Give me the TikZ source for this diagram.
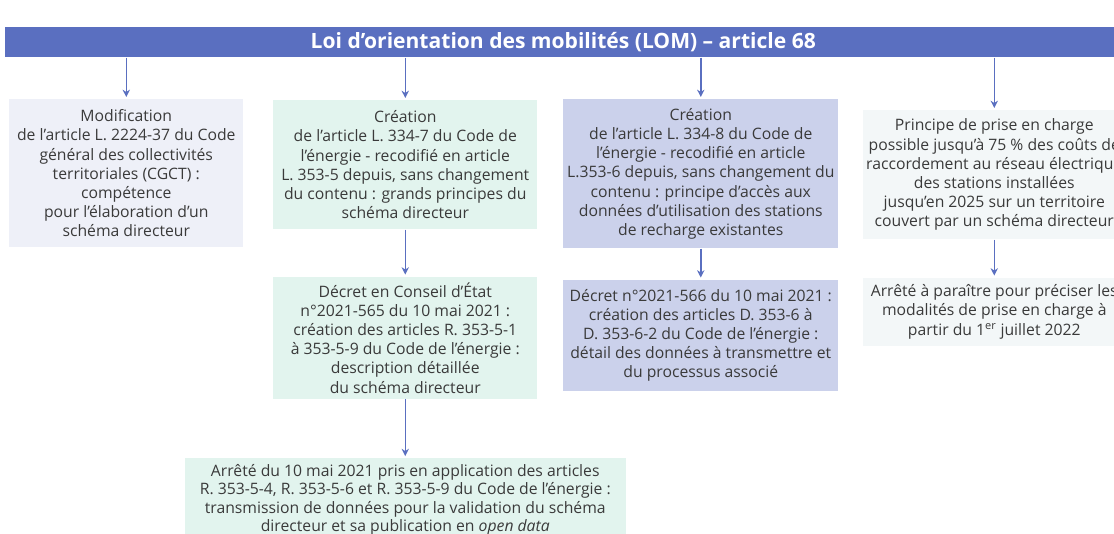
\documentclass[tikz,border=0pt]{standalone}
\usepackage{fontspec}
\setmainfont{Open Sans}
\usepackage{xcolor}
\usepackage{tikz}
\usetikzlibrary{arrows.meta, positioning}

\definecolor{lombleu}{HTML}{5A6FC0}
\definecolor{lavande}{HTML}{EEF0F8}
\definecolor{menthe}{HTML}{E2F4EE}
\definecolor{bleuclair}{HTML}{CBD1EB}
\definecolor{grisclair}{HTML}{F3F7F8}
\definecolor{texte}{HTML}{3A3A3A}

\begin{document}
\begin{tikzpicture}[
    x=0.75pt, y=-0.75pt,
    box/.style={rectangle, inner xsep=2pt, inner ysep=4pt, align=center, text=texte,
                font=\fontsize{11.8}{14.4}\selectfont},
    arr/.style={-{Stealth[length=5.5pt, width=5.5pt]}, line width=1.1pt, lombleu,
                shorten >=1.5pt}
]
\useasboundingbox (0,0) rectangle (1114,533);

% bandeau du titre
\node[rectangle, fill=lombleu, anchor=north west, minimum width=837pt, minimum height=22.5pt,
      text=white, font=\fontsize{15.8}{17}\selectfont\bfseries] (lom) at (5,27)
      {Loi d’orientation des mobilités (LOM) – article 68};

% premiere rangee
\node[box, fill=lavande, anchor=north west, minimum width=175.5pt, minimum height=111pt] (cgct) at (9,99)
  {Modification\\de l’article L. 2224-37 du Code\\général des collectivités\\territoriales (CGCT) :\\compétence\\pour l’élaboration d’un\\schéma directeur};
\node[box, fill=menthe, anchor=north west, minimum width=198pt, minimum height=96.75pt] (l3347) at (273,100)
  {Création\\de l’article L. 334-7 du Code de\\l’énergie - recodifié en article\\L. 353-5 depuis, sans changement\\du contenu : grands principes du\\schéma directeur};
\node[box, fill=bleuclair, anchor=north west, minimum width=206.25pt, minimum height=111.75pt] (l3348) at (563,99)
  {Création\\de l’article L. 334-8 du Code de\\l’énergie - recodifié en article\\L.353-6 depuis, sans changement du\\contenu : principe d’accès aux\\données d’utilisation des stations\\de recharge existantes};
\node[box, fill=grisclair, anchor=north west, minimum width=196.5pt, minimum height=96.75pt] (prise) at (863,110)
  {Principe de prise en charge\\possible jusqu’à 75 \% des coûts de\\raccordement au réseau électrique\\des stations installées\\jusqu’en 2025 sur un territoire\\couvert par un schéma directeur};

% decrets et arretes
\node[box, fill=menthe, below=35.25pt of l3347, minimum width=198pt, minimum height=91.5pt] (d565)
  {Décret en Conseil d’État\\n°2021-565 du 10 mai 2021 :\\création des articles R. 353-5-1\\à 353-5-9 du Code de l’énergie :\\description détaillée\\du schéma directeur};
\node[box, fill=bleuclair, below=23.25pt of l3348, minimum width=206.25pt, minimum height=83.25pt] (d566)
  {Décret n°2021-566 du 10 mai 2021 :\\création des articles D. 353-6 à\\D. 353-6-2 du Code de l’énergie :\\détail des données à transmettre et\\du processus associé};
\node[box, fill=grisclair, below=28.5pt of prise, minimum width=196.5pt, minimum height=51pt] (arrete22)
  {Arrêté à paraître pour préciser les\\modalités de prise en charge à\\partir du 1\textsuperscript{er} juillet 2022};
\node[box, fill=menthe, below=44.25pt of d565, minimum width=330.75pt, minimum height=62pt,
      font=\fontsize{11.8}{13.8}\selectfont] (arrete21)
  {Arrêté du 10 mai 2021 pris en application des articles\\R. 353-5-4, R. 353-5-6 et R. 353-5-9 du Code de l’énergie :\\transmission de données pour la validation du schéma\\directeur et sa publication en \textit{open data}};

\draw[arr] (cgct.north |- lom.south) -- (cgct.north);
\draw[arr] (l3347.north |- lom.south) -- (l3347.north);
\draw[arr] (l3348.north |- lom.south) -- (l3348.north);
\draw[arr] (prise.north |- lom.south) -- (prise.north);
\draw[arr] (l3347) -- (d565);
\draw[arr] (l3348) -- (d566);
\draw[arr] (prise) -- (arrete22);
\draw[arr] (d565) -- (arrete21);
\end{tikzpicture}
\end{document}
